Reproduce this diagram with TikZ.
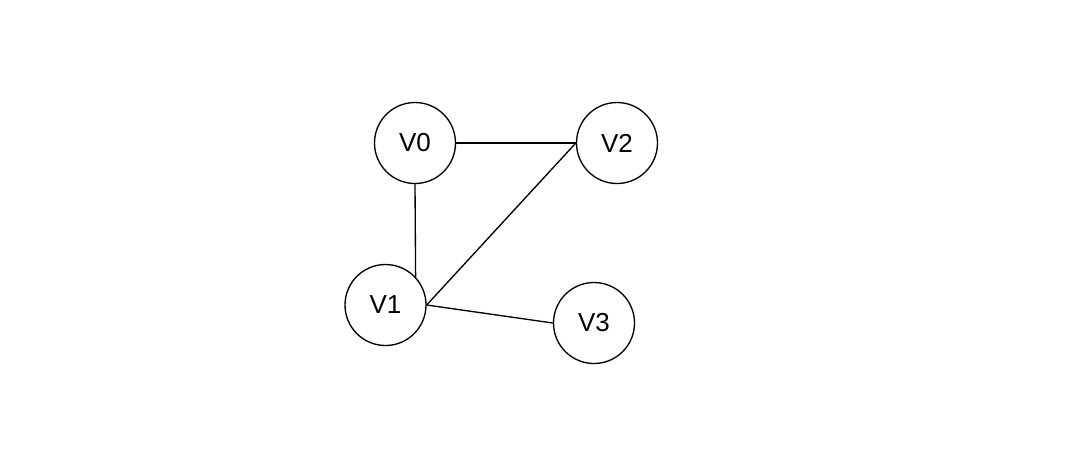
\documentclass[tikz,border=0pt]{standalone}
\usepackage{fontspec}
\setmainfont{Liberation Sans}
\usetikzlibrary{positioning}

\begin{document}
\begin{tikzpicture}[x=0.75pt,y=-0.75pt]
\tikzset{vertex/.style={draw,circle,line width=1pt,minimum size=60.75pt,inner sep=0pt,font=\fontsize{19.5}{22}\selectfont}}
\tikzset{edge/.style={line width=1pt}}
\useasboundingbox (0,0) rectangle (1080,451);
  \node[vertex] (V0) at (415,143) {V0};
  \node[vertex] (V2) at (617,143) {V2};
  \node[vertex] (V1) at (385.5,305) {V1};
  \node[vertex] (V3) at (594,323) {V3};
\draw[edge] (V0.east) -- (V2.west);
  \draw[edge] (V0.south) -- (V1.43);
  \draw[edge] (V1.east) -- (V2.west);
\draw[edge] (V1.east) -- (V3.west);
\end{tikzpicture}
\end{document}
